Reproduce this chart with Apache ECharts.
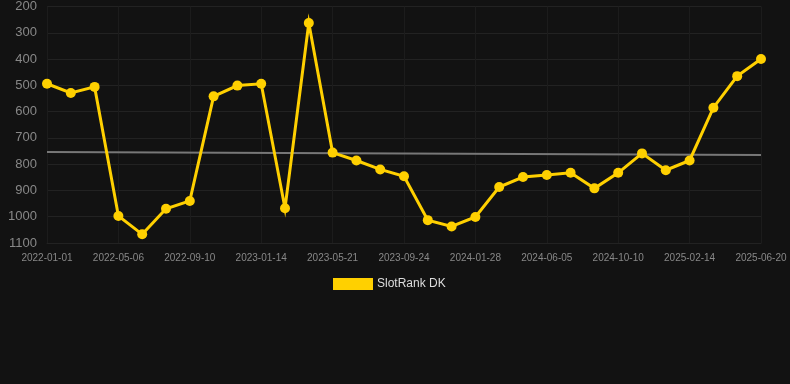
<!doctype html>
<html>
    <head>
        <meta charset="utf-8">
        <title>SlotRank DK</title>
        <style>
            html, body { margin: 0; padding: 0; background: #121212; }
            #main { width: 790px; height: 384px; }
        </style>
    </head>
    <body>
        <div id="main"></div>
        <script src="https://cdn.jsdelivr.net/npm/echarts@6/dist/echarts.min.js"></script>
        <script>
            var dates = [
                '2022-01-01', '2022-02-12', '2022-03-25', '2022-05-06', '2022-06-17', '2022-07-29',
                '2022-09-10', '2022-10-22', '2022-12-03', '2023-01-14', '2023-02-25', '2023-04-08',
                '2023-05-21', '2023-07-02', '2023-08-13', '2023-09-24', '2023-11-05', '2023-12-17',
                '2024-01-28', '2024-03-10', '2024-04-23', '2024-06-05', '2024-07-17', '2024-08-28',
                '2024-10-10', '2024-11-21', '2025-01-02', '2025-02-14', '2025-03-28', '2025-05-09',
                '2025-06-20'
            ];
            var ranks = [
                494, 529, 506, 997, 1067, 970,
                940, 542, 501, 494, 968, 263,
                756, 786, 820, 846, 1013, 1037,
                1001, 887, 849, 841, 833, 892,
                833, 759, 823, 786, 585, 465,
                400
            ];
            // trend line: only the two ends are given
            var trendStart = 754;
            var trendEnd = 765;
            var trend = dates.map(function (d, i) {
                if (i === 0) return trendStart;
                if (i === dates.length - 1) return trendEnd;
                return null;
            });

            var chart = echarts.init(document.getElementById('main'));

            chart.setOption({
                backgroundColor: '#121212',
                animation: false,
                grid: {
                    left: 47,
                    right: 29,
                    top: 6,
                    bottom: 141
                },
                legend: {
                    top: 273,
                    left: 328,
                    itemWidth: 40,
                    itemHeight: 12,
                    textStyle: { color: '#dddddd', fontSize: 12, padding: [0, 0, 0, -1] },
                    data: [{ name: 'SlotRank DK', icon: 'rect' }]
                },
                xAxis: {
                    type: 'category',
                    data: dates,
                    boundaryGap: false,
                    axisLine: { show: true, lineStyle: { color: '#222222' } },
                    axisTick: { show: false },
                    axisLabel: {
                        interval: 2,
                        color: '#888888',
                        fontSize: 10,
                        margin: 10
                    },
                    splitLine: {
                        show: true,
                        interval: 2,
                        lineStyle: { color: '#1c1c1c' }
                    }
                },
                yAxis: {
                    type: 'value',
                    inverse: true,
                    min: 200,
                    max: 1100,
                    interval: 100,
                    axisLine: { show: false },
                    axisTick: { show: false },
                    axisLabel: {
                        color: '#888888',
                        fontSize: 13,
                        margin: 10,
                        formatter: function (v) { return String(v); }
                    },
                    splitLine: { lineStyle: { color: '#222222' } }
                },
                series: [
                    {
                        name: 'Trend',
                        type: 'line',
                        data: trend,
                        connectNulls: true,
                        symbol: 'none',
                        silent: true,
                        lineStyle: { color: '#777777', width: 2 },
                        z: 1
                    },
                    {
                        name: 'SlotRank DK',
                        type: 'line',
                        data: ranks,
                        symbol: 'circle',
                        symbolSize: 10,
                        itemStyle: { color: '#ffd000' },
                        lineStyle: { color: '#ffd000', width: 3, join: 'miter', miterLimit: 20 },
                        z: 2
                    }
                ]
            });
        </script>
    </body>
</html>
